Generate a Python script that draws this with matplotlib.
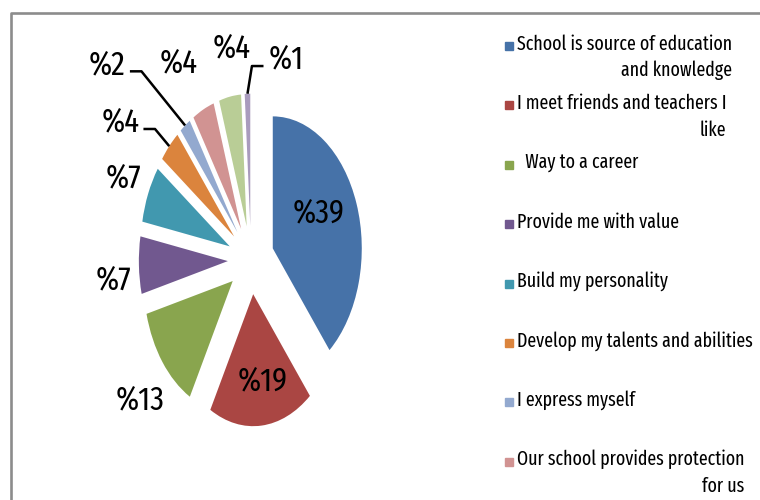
import matplotlib
matplotlib.use("Agg")
import matplotlib.pyplot as plt
from matplotlib.patches import Rectangle
from matplotlib.lines import Line2D
import numpy as np

values = [39, 19, 13, 7, 7, 4, 2, 4, 4, 1]
pct_labels = ["%" + str(v) for v in values]
legend_labels = ["School is source of education\nand knowledge",
                 "I meet friends and teachers I\nlike",
                 "  Way to a career",
                 "Provide me with value",
                 "Build my personality",
                 "Develop my talents and abilities",
                 "I express myself",
                 "Our school provides protection\nfor us"]
colors = ["#4672a8", "#aa4643", "#89a54e", "#71588f", "#4198af",
          "#db843d", "#93a9cf", "#d19392", "#b9cd96", "#a99bbd"]

# label distance from the exploded slice centre (None = label with leader line)
label_dist = [0.58, 0.67, 1.38, 1.29, 1.30, None, None, 1.44, 1.36, None]
label_turn = [8, 4, 3, 4.7, 0, 0, 0, 4, -3.5, 0]  # degrees, nudges the label round
leader_offset = {5: (-0.55, 0.18), 6: (-0.88, 0.46), 9: (0.44, 0.26)}
explode = 0.26

W, H = 760, 500
fig = plt.figure(figsize=(W / 100, H / 100), dpi=100)
ax = fig.add_axes([0, 0, 1, 1])
wedges, _ = ax.pie(values, colors=colors, startangle=90, counterclock=False,
                   explode=[explode] * len(values), radius=1.0,
                   wedgeprops=dict(linewidth=0))
# the original picture is squeezed sideways, so the pie is an ellipse
cx, cy, rx, ry = 251, 260, 89, 132
ax.set_aspect("auto")
ax.set_xlim(-cx / rx, (W - cx) / rx)
ax.set_ylim(-(H - cy) / ry, cy / ry)
ax.axis("off")

lab_font = dict(family=["Fira Sans Extra Condensed", "DejaVu Sans"], fontsize=24, color="black")
for i, w in enumerate(wedges):
    mid = np.deg2rad((w.theta1 + w.theta2) / 2)
    u = np.array([np.cos(mid), np.sin(mid)])
    if label_dist[i] is not None:
        a = mid + np.deg2rad(label_turn[i])
        p = explode * u + label_dist[i] * np.array([np.cos(a), np.sin(a)])
        ax.text(p[0], p[1], pct_labels[i], ha="center", va="center", **lab_font)
    else:
        edge = (explode + 1.0) * u
        t = edge + np.array(leader_offset[i])
        s = 1 if t[0] < edge[0] else -1
        xs = [t[0] + s * 0.26, t[0] + s * 0.39, edge[0]]
        ys = [t[1] - 0.05, t[1] - 0.05, edge[1]]
        ax.plot(xs, ys, color="black", lw=1.8, solid_capstyle="butt")
        ax.text(t[0], t[1], pct_labels[i], ha="center", va="center", **lab_font)

# chart border (partly outside the picture)
fig.add_artist(Line2D([11 / W, 11 / W, 1.01], [-0.01, 1 - 12.5 / H, 1 - 12.5 / H],
                      transform=fig.transFigure, color="#8c8c8c", lw=1.9))

# legend
leg_font = dict(family=["Fira Sans Extra Condensed", "DejaVu Sans"], fontsize=14)
for i, lab in enumerate(legend_labels):
    yc = 45 + i * 59.4
    fig.add_artist(Rectangle((505 / W, 1 - (yc + 5) / H), 8 / W, 8 / H,
                             transform=fig.transFigure, color=colors[i]))
    t = fig.text(517 / W, 1 - (yc - 11) / H, lab, ha="left", va="top",
                 linespacing=1.45, **leg_font)
    t.set_multialignment("right")

fig.savefig("out.png", dpi=100)
